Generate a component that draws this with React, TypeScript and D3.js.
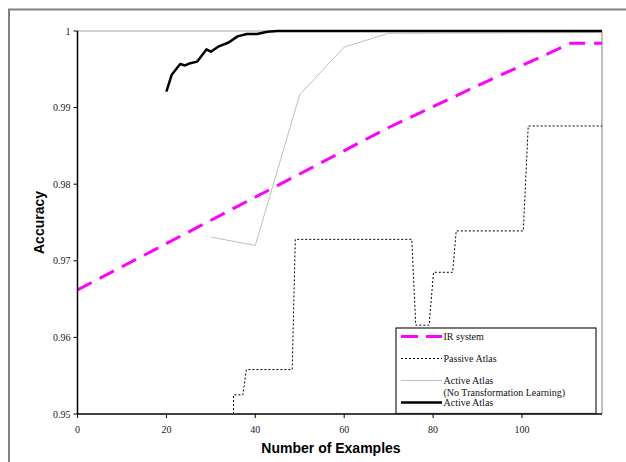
import React from 'react';
import * as d3 from 'd3';

// Accuracy vs. number of training examples
const irSystem: [number, number][] = [
  [0, 0.9662], [70, 0.9874], [92, 0.9934], [111, 0.9984], [118, 0.9984],
];

const passiveAtlas: [number, number][] = [
  [35.1, 0.95], [35.1, 0.9525], [37.2, 0.9525], [38, 0.9558], [48.3, 0.9558],
  [49, 0.9728], [75.2, 0.9728], [76.1, 0.9616], [79.1, 0.9616], [80.1, 0.9685],
  [84.4, 0.9685], [85.2, 0.9739], [100.3, 0.9739], [101.4, 0.9876], [118, 0.9876],
];

const activeNoTransform: [number, number][] = [
  [30, 0.9731], [40, 0.972], [50, 0.9917], [60, 0.9979], [70, 0.9997], [118, 0.9998],
];

const activeAtlas: [number, number][] = [
  [20, 0.9921], [21.2, 0.9943], [23.1, 0.9957], [24.2, 0.9955], [25.4, 0.9958],
  [26.9, 0.996], [29, 0.9976], [30, 0.9973], [31.8, 0.998], [34, 0.9985],
  [36, 0.9993], [38.1, 0.9996], [40.4, 0.9996], [42.7, 0.9999], [45, 1], [118, 1],
];

const xTicks = [0, 20, 40, 60, 80, 100];
const yTicks = [0.95, 0.96, 0.97, 0.98, 0.99, 1];

const legendItems = [
  { label: ['IR system'], stroke: '#ff00ff', width: 3, dash: '17,8' },
  { label: ['Passive Atlas'], stroke: '#000', width: 1, dash: '2,2' },
  { label: ['Active Atlas', '(No Transformation Learning)'], stroke: '#c0c0c0', width: 1, dash: null },
  { label: ['Active Atlas'], stroke: '#000', width: 2.5, dash: null },
];

const W = 626;
const H = 462;
const plot = { left: 77.5, right: 602, top: 31, bottom: 414 };
const serif = '"Liberation Serif", "Times New Roman", serif';
const sans = '"Liberation Sans", Arial, sans-serif';

export default function App() {
  const x = d3.scaleLinear().domain([0, 118]).range([plot.left, plot.right]);
  const y = d3.scaleLinear().domain([0.95, 1]).range([plot.bottom, plot.top]);
  const line = d3.line<[number, number]>().x(d => x(d[0])).y(d => y(d[1]));

  const legendRows = [340, 362, 384, 406];

  return (
    <svg width={W} height={H} style={{ position: 'absolute', left: 0, top: 0, background: '#fff' }}>
      {/* outer chart frame */}
      <rect x={9} y={9.5} width={W + 10} height={H + 10} fill="none" stroke="#808080" strokeWidth={2} />

      {/* plot area border (top/right) */}
      <line x1={plot.left} x2={plot.right} y1={plot.top} y2={plot.top} stroke="#c0c0c0" strokeWidth={1.5} />
      <line x1={plot.right} x2={plot.right} y1={plot.top} y2={plot.bottom} stroke="#c0c0c0" strokeWidth={2} />

      {/* series */}
      <path d={line(activeNoTransform) || ''} fill="none" stroke="#c0c0c0" strokeWidth={1} />
      <path d={line(passiveAtlas) || ''} fill="none" stroke="#000" strokeWidth={1} strokeDasharray="2,2" />
      <path d={line(irSystem) || ''} fill="none" stroke="#ff00ff" strokeWidth={3} strokeDasharray="16,9" />
      <path d={line(activeAtlas) || ''} fill="none" stroke="#000" strokeWidth={2.5} strokeLinejoin="round" />

      {/* axes */}
      <line x1={plot.left} x2={plot.left} y1={plot.top} y2={plot.bottom} stroke="#000" strokeWidth={1.5} />
      <line x1={plot.left} x2={plot.right} y1={plot.bottom} y2={plot.bottom} stroke="#000" strokeWidth={1.5} />
      {yTicks.map(t => (
        <g key={`y${t}`}>
          <line x1={plot.left - 4} x2={plot.left} y1={y(t)} y2={y(t)} stroke="#000" />
          <text x={plot.left - 7} y={y(t) + 3.5} textAnchor="end" fontFamily={serif} fontSize={10} fill="#222">
            {t === 1 ? '1' : d3.format('.2f')(t)}
          </text>
        </g>
      ))}
      {xTicks.map(t => (
        <g key={`x${t}`}>
          <line x1={x(t)} x2={x(t)} y1={plot.bottom} y2={plot.bottom + 4} stroke="#000" />
          <text x={x(t)} y={plot.bottom + 19} textAnchor="middle" fontFamily={serif} fontSize={10} fill="#222">
            {t}
          </text>
        </g>
      ))}

      {/* axis titles */}
      <text x={331} y={453} textAnchor="middle" fontFamily={sans} fontWeight="bold" fontSize={14}>
        Number of Examples
      </text>
      <text transform={`translate(44,${(plot.top + plot.bottom) / 2}) rotate(-90)`} textAnchor="middle"
        fontFamily={sans} fontWeight="bold" fontSize={14}>
        Accuracy
      </text>

      {/* legend */}
      <rect x={396} y={328} width={200} height={85.5} fill="#fff" stroke="#222" strokeWidth={1.2} />
      {legendItems.map((item, i) => {
        const ly = legendRows[i] - 3.5;
        return (
          <g key={i}>
            <line x1={401} x2={442} y1={ly} y2={ly} stroke={item.stroke} strokeWidth={item.width}
              strokeDasharray={item.dash || undefined} />
            {item.label.map((s, j) => (
              <text key={j} x={443.5} y={legendRows[i] + j * 11.5} fontFamily={serif} fontSize={10} fill="#111">
                {s}
              </text>
            ))}
          </g>
        );
      })}
    </svg>
  );
}
